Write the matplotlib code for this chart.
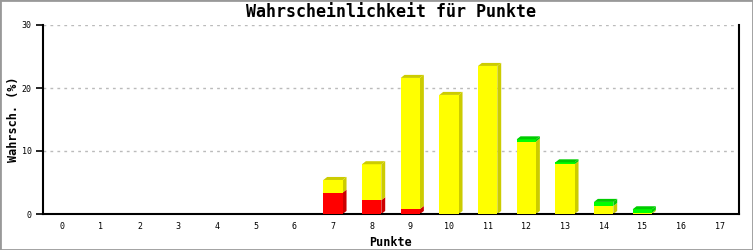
import matplotlib.pyplot as plt
from matplotlib.patches import Polygon, Rectangle

punkte = list(range(18))
rot = [0, 0, 0, 0, 0, 0, 0, 3.4, 2.2, 0.8, 0, 0, 0, 0, 0, 0, 0, 0]
gelb = [0, 0, 0, 0, 0, 0, 0, 2.0, 5.7, 20.8, 18.9, 23.5, 11.5, 7.9, 1.27, 0.2, 0, 0]
gruen = [0, 0, 0, 0, 0, 0, 0, 0, 0, 0, 0, 0, 0.35, 0.3, 0.65, 0.55, 0, 0]

serien = [
    (rot, "#ff0000", "#cc0000"),
    (gelb, "#ffff00", "#cccc00"),
    (gruen, "#00ff00", "#00cc00"),
]

breite = 0.5
dx, dy = 0.10, 0.48  # 3D-Tiefe in Dateneinheiten

fig = plt.figure(figsize=(7.53, 2.5), dpi=100)
fig.patches.append(Rectangle((0, 0), 1, 1, transform=fig.transFigure,
                             fill=False, edgecolor="#999999", linewidth=2))
ax = fig.add_axes([43 / 753, 36 / 250, 696 / 753, 189 / 250])

unten = [0] * len(punkte)
oben_farbe = [None] * len(punkte)
for werte, farbe, dunkel in serien:
    ax.bar(punkte, werte, width=breite, bottom=unten, color=farbe,
           linewidth=0, zorder=3)
    for x, b, v in zip(punkte, unten, werte):
        if v <= 0:
            continue
        r = x + breite / 2
        ax.add_patch(Polygon([(r, b), (r + dx, b + dy), (r + dx, b + v + dy), (r, b + v)],
                             closed=True, facecolor=dunkel, linewidth=0, zorder=2))
    for i, v in enumerate(werte):
        if v > 0:
            oben_farbe[i] = dunkel
    unten = [b + v for b, v in zip(unten, werte)]

for x, t, dunkel in zip(punkte, unten, oben_farbe):
    if dunkel is None:
        continue
    l, r = x - breite / 2, x + breite / 2
    ax.add_patch(Polygon([(l, t), (l + dx, t + dy), (r + dx, t + dy), (r, t)],
                         closed=True, facecolor=dunkel, linewidth=0, zorder=3))

ax.set_xlim(-0.5, 17.5)
ax.set_ylim(0, 30)
ax.set_xticks(punkte)
ax.set_xticklabels([str(p) for p in punkte], family="DejaVu Sans Mono", fontsize=6)
ax.set_yticks([0, 10, 20, 30])
ax.set_yticklabels(["0", "10", "20", "30"], family="DejaVu Sans Mono", fontsize=6)
ax.tick_params(axis="x", length=0, pad=6)
ax.tick_params(axis="y", length=5, width=1.2, pad=3, direction="out")

ax.yaxis.grid(True, color="#bbbbbb", linestyle=(0, (2, 3)), linewidth=1)
ax.set_axisbelow(True)
ax.spines["top"].set_visible(False)
for s in ("left", "bottom", "right"):
    ax.spines[s].set_linewidth(1.5)
    ax.spines[s].set_color("black")

ax.set_xlabel("Punkte", family="DejaVu Sans Mono", fontweight="bold",
              fontsize=8.5, labelpad=3)
ax.set_ylabel("Wahrsch. (%)", family="DejaVu Sans Mono", fontweight="bold",
              fontsize=8.5)
ax.yaxis.set_label_coords(-0.033, 0.5)
ax.set_title("Wahrscheinlichkeit für Punkte", family="DejaVu Sans Mono",
             fontweight="bold", fontsize=12, pad=6)

fig.savefig("out.png", dpi=100)
